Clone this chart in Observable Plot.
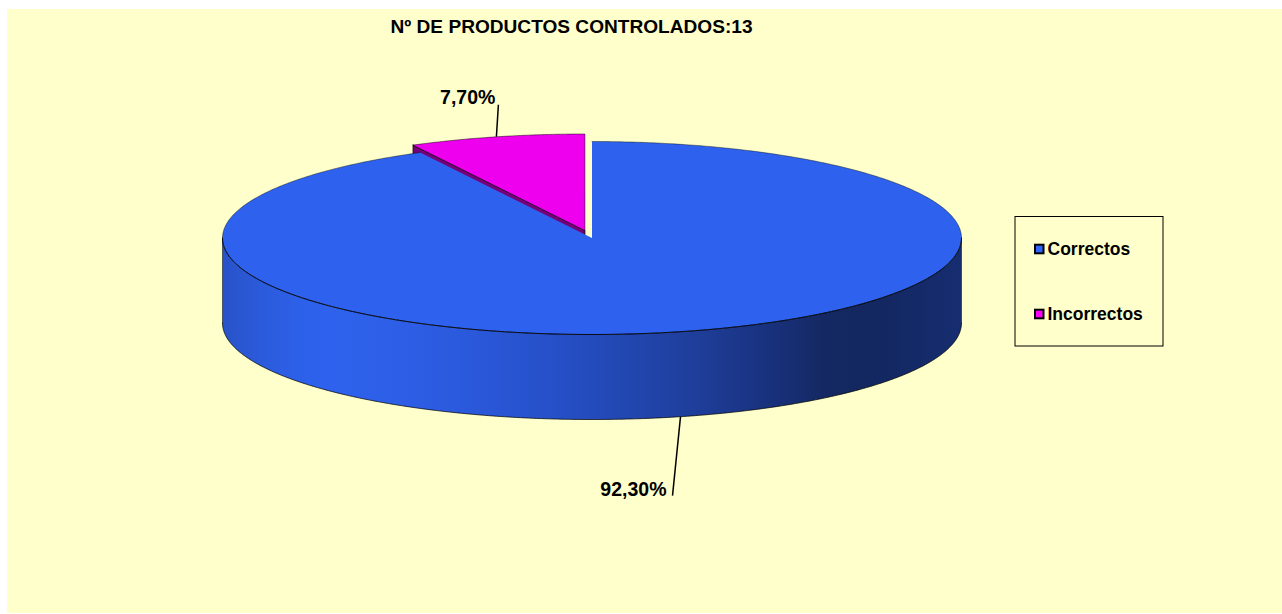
<!DOCTYPE html>
<html lang="es">
<head>
<meta charset="utf-8">
<title>Nº de productos controlados</title>
<script src="https://cdn.jsdelivr.net/npm/d3@7"></script>
<script src="https://cdn.jsdelivr.net/npm/@observablehq/plot@0.6"></script>
<style>
html,body{margin:0;padding:0;background:#fff;overflow:hidden}
svg{display:block}
</style>
</head>
<body>
<div id="chart"></div>
<script>
// ---- data
const chartTitle = "Nº DE PRODUCTOS CONTROLADOS:13";
const categories = ["Correctos", "Incorrectos"];
const shares = [92.3, 7.7];
const shareLabels = ["92,30%", "7,70%"];

// ---- styles
const topColors = ["#2E62EE", "#EE00EE"];
const legendColors = ["#2E66FF", "#FF00FF"];
const sliceSideColor = "#77007A";
const paper = "#FFFFCC";
const sideStops = [
  [0, "#2852C8"], [0.05, "#2B5ADA"], [0.1, "#2D60E8"], [0.14, "#2E62EE"], [0.18, "#2E61EB"],
  [0.3, "#2C5BE0"], [0.45, "#2650C8"], [0.65, "#1E3D98"], [0.75, "#18307A"],
  [0.81, "#142964"], [0.85, "#132760"], [0.9, "#132862"], [1, "#162D70"]
];

// ---- pie geometry parameters
const W = 1282, H = 614;
const cx = 591.5, cy = 237.5, rx = 369.5, ry = 96.5, depth = 85, explode = 0.08;
const font = "'Liberation Sans', Arial, sans-serif";

const arcs = d3.pie().sort(null)(shares).map((a, i) => {
  const mid = (a.startAngle + a.endAngle) / 2;
  const k = i === 1 ? explode : 0;
  return {
    name: categories[i], label: shareLabels[i], start: a.startAngle, end: a.endAngle, mid,
    ox: cx + rx * k * Math.sin(mid),
    oy: cy - ry * k * Math.cos(mid)
  };
});
const pt = (s, a, dy = 0) => ({x: s.ox + rx * Math.sin(a), y: s.oy - ry * Math.cos(a) + dy});
const arcPts = (s, a0, a1, dy = 0) => {
  const n = Math.max(2, Math.ceil(Math.abs(a1 - a0) * 90));
  return d3.range(n + 1).map(i => pt(s, a0 + (a1 - a0) * i / n, dy));
};
const [big, small] = arcs;
const closed = p => [...p, p[0]];

const bigTop = closed([{x: big.ox, y: big.oy}, ...arcPts(big, big.start, big.end)]);
const bigArc = arcPts(big, big.start, big.end);
const bigFrontTop = arcPts(big, Math.PI / 2, 3 * Math.PI / 2);
const bigFrontBottom = arcPts(big, Math.PI / 2, 3 * Math.PI / 2, depth);
const bigSide = closed([...bigFrontTop, ...bigFrontBottom.slice().reverse()]);
const smallTop = closed([{x: small.ox, y: small.oy}, ...arcPts(small, small.start, small.end)]);
const a0 = pt(small, small.start);
const smallSide = closed([a0, {x: small.ox, y: small.oy}, {x: small.ox, y: small.oy + depth}, {x: a0.x, y: a0.y + depth}]);

// leader lines start at the mid angle of each slice
const anchorBig = pt(big, big.mid, depth);
const anchorSmall = pt(small, small.mid);
const leaders = [
  {from: anchorBig, to: {x: anchorBig.x - 8, y: anchorBig.y + 79}, dx: -6, dy: -6, label: big.label},
  {from: anchorSmall, to: {x: anchorSmall.x + 2, y: anchorSmall.y - 32}, dx: -3, dy: -7, label: small.label}
];

// legend layout
const legendBox = {x1: 1015, x2: 1163, y1: 216.5, y2: 346};
const legendRows = categories.map((name, i) => ({
  name, color: legendColors[i], y: [249, 314][i]
}));

const defs = () => {
  const d = d3.create("svg:defs");
  const g = d.append("linearGradient").attr("id", "sideGrad")
    .attr("x1", 0).attr("x2", 1).attr("y1", 0).attr("y2", 0);
  sideStops.forEach(([o, c]) => g.append("stop").attr("offset", o).attr("stop-color", c));
  return d.node();
};

const poly = (data, fill, extra = {}) => Plot.line(data, {x: "x", y: "y", fill, stroke: "none", curve: "linear", ...extra});
const outline = (data, opacity = 0.8, w = 1) => Plot.line(data, {x: "x", y: "y", stroke: "#000", strokeWidth: w, strokeOpacity: opacity, curve: "linear"});

const chart = Plot.plot({
  width: W, height: H,
  margin: 0,
  style: {background: "#fff", fontFamily: font},
  x: {domain: [0, W], range: [0, W], axis: null},
  y: {domain: [0, H], range: [0, H], axis: null},
  marks: [
    defs,
    Plot.rect([{x1: 7, x2: W, y1: 9, y2: 613}], {x1: "x1", x2: "x2", y1: "y1", y2: "y2", fill: paper}),
    Plot.text([chartTitle], {x: 571, y: 26, text: d => d, fontSize: 19.1, fontWeight: "bold", fill: "#000", textAnchor: "middle"}),

    // exploded slice wall, then the body of the pie above it
    poly(smallSide, sliceSideColor, {stroke: "#000", strokeWidth: 1, strokeOpacity: 0.8}),
    poly(bigSide, "url(#sideGrad)"),
    outline(bigFrontBottom, 0.7),
    outline([bigFrontTop[0], bigFrontBottom[0]], 0.5),
    outline([bigFrontTop[bigFrontTop.length - 1], bigFrontBottom[bigFrontBottom.length - 1]], 0.5),
    poly(bigTop, topColors[0]),
    outline(bigFrontTop, 0.85),
    outline(bigArc, 0.4),
    poly(smallTop, topColors[1], {stroke: "#000", strokeWidth: 0.8, strokeOpacity: 0.6}),

    // leader lines and values
    Plot.link(leaders, {x1: d => d.from.x, y1: d => d.from.y, x2: d => d.to.x, y2: d => d.to.y, stroke: "#000", strokeWidth: 1.5}),
    Plot.text(leaders, {x: d => d.to.x + d.dx, y: d => d.to.y + d.dy, text: "label", textAnchor: "end", fontSize: 19.5, fontWeight: "bold", fill: "#000"}),

    // legend
    Plot.rect([legendBox], {x1: "x1", x2: "x2", y1: "y1", y2: "y2", fill: paper, stroke: "#000", strokeWidth: 1}),
    Plot.rect(legendRows, {x1: () => 1035, x2: () => 1043.5, y1: d => d.y - 4.3, y2: d => d.y + 4.3, fill: "color", stroke: "#000", strokeWidth: 2}),
    Plot.text(legendRows, {x: () => 1047, y: "y", text: "name", textAnchor: "start", fontSize: 17.5, fontWeight: "bold", fill: "#000"})
  ]
});
document.getElementById("chart").append(chart);
</script>
</body>
</html>
